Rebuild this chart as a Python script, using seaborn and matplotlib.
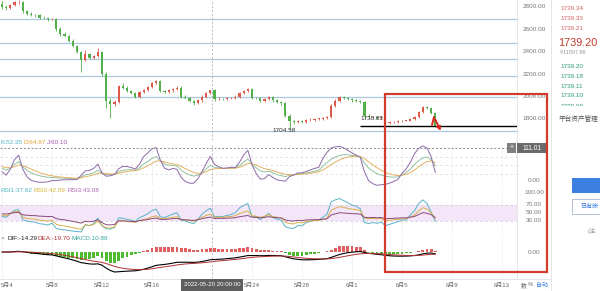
import numpy as np
import pandas as pd
import matplotlib
matplotlib.use("Agg")
import matplotlib.pyplot as plt
import seaborn as sns
from matplotlib import transforms
from matplotlib.patches import Rectangle
from matplotlib.lines import Line2D

# ---------------- data (8h candles, position in days from 5月4) ----------------
closes = [2800, 2790, 2815, 2840, 2845, 2760, 2740, 2730, 2725, 2705,
          2700, 2688, 2694, 2600, 2560, 2540, 2500, 2450, 2400, 2330,
          2380, 2345, 2360, 2400, 2200, 1960, 1930, 1950, 2090, 2080,
          2050, 2030, 2000, 2040, 2060, 2085, 2120, 2140, 2050, 2040,
          2055, 2070, 2080, 2000, 1985, 1960, 1940, 1965, 2000, 2030,
          2055, 1975, 1980, 1978, 1985, 1990, 2000, 2030, 2050, 2070,
          1990, 1985, 1960, 1975, 1995, 1965, 1950, 1940, 1830, 1780,
          1770, 1785, 1775, 1790, 1795, 1800, 1800, 1810, 1820, 1920,
          1960, 1995, 1985, 1975, 1965, 1960, 1950, 1830, 1815, 1820,
          1810, 1815, 1765, 1770, 1775, 1780, 1785, 1785, 1800, 1815,
          1860, 1910, 1895, 1850, 1739]
highs = [2850, 2815, 2825, 2855, 2862, 2855, 2775, 2752, 2740, 2735,
         2718, 2710, 2705, 2705, 2625, 2575, 2550, 2512, 2462, 2410,
         2415, 2392, 2375, 2433, 2410, 2215, 1985, 1965, 2105, 2120,
         2095, 2062, 2042, 2052, 2070, 2095, 2132, 2150, 2148, 2062,
         2065, 2080, 2092, 2090, 2012, 1995, 1972, 1975, 2010, 2040,
         2062, 2065, 1992, 1990, 1995, 2000, 2010, 2042, 2060, 2078,
         2078, 2000, 1995, 1985, 2005, 2002, 1975, 1960, 1950, 1842,
         1792, 1795, 1795, 1800, 1805, 1810, 1812, 1820, 1830, 1930,
         1975, 2005, 2002, 1995, 1985, 1975, 1970, 1958, 1842, 1830,
         1830, 1825, 1822, 1778, 1782, 1788, 1792, 1792, 1808, 1822,
         1868, 1918, 1920, 1900, 1856]
lows = [2785, 2775, 2782, 2805, 2828, 2748, 2728, 2718, 2712, 2695,
        2690, 2678, 2680, 2588, 2545, 2528, 2488, 2438, 2385, 2220,
        2318, 2335, 2332, 2350, 2185, 1900, 1808, 1918, 1940, 2068,
        2038, 2020, 1990, 1988, 2030, 2050, 2075, 2110, 2040, 2030,
        2030, 2045, 2060, 1988, 1975, 1950, 1928, 1930, 1955, 1990,
        2020, 1962, 1965, 1968, 1968, 1975, 1980, 1990, 2020, 2040,
        1978, 1975, 1948, 1950, 1965, 1955, 1940, 1928, 1815, 1704.58,
        1758, 1760, 1765, 1765, 1780, 1785, 1790, 1790, 1800, 1810,
        1910, 1950, 1975, 1965, 1955, 1950, 1940, 1800, 1805, 1805,
        1800, 1800, 1755, 1758, 1762, 1768, 1772, 1778, 1778, 1792,
        1808, 1852, 1885, 1840, 1730]
first_open = 2830
opens = [first_open] + closes[:-1]

level_lines = [2692, 2478, 2335, 2183, 1996, 1692]
price_ticks = [2800, 2600, 2400, 2200, 2000, 1800]
date_ticks = [0, 4, 8, 12, 20, 24, 28, 32, 36, 40]
date_labels = ["5月4", "5月8", "5月12", "5月16", "5月24", "5月28",
               "6月1", "6月5", "6月9", "6月13"]
rsi_ticks = [100, 70, 50, 30]
right_prices_red = ["1739.34", "1739.33", "1739.21"]
right_prices_green = ["1739.20", "1739.18", "1739.11", "1739.10", "1739.09"]
last_price = "1739.20"
current_line = 1737
crosshair_t = 16.83
crosshair_val = 111.01

# ---------------- style ----------------
sns.set_theme(style="white")
plt.rcParams["font.family"] = ["Liberation Sans", "Noto Sans CJK SC", "DejaVu Sans"]
plt.rcParams["axes.facecolor"] = "white"

W, H = 600, 291
fig = plt.figure(figsize=(6.0, 2.91), dpi=100)
fig.patch.set_facecolor("white")


def rect(x0, y0, x1, y1):
    return [x0 / W, 1 - y1 / H, (x1 - x0) / W, (y1 - y0) / H]


def T(x, y, s, **kw):
    kw.setdefault("size", 4.6)
    kw.setdefault("va", "center")
    return fig.text(x / W, 1 - y / H, s, **kw)


t = np.arange(len(closes)) / 3.0
XL = (-0.16, 41.2)

ax_main = fig.add_axes(rect(0, 0, 517, 140))
ax_kdj = fig.add_axes(rect(0, 145, 517, 186))
ax_rsi = fig.add_axes(rect(0, 191, 517, 233))
ax_macd = fig.add_axes(rect(0, 236, 517, 278))
axes = [ax_main, ax_kdj, ax_rsi, ax_macd]
for a in axes:
    a.set_xlim(*XL)
    for s in a.spines.values():
        s.set_visible(False)
    a.set_xticks([])
    a.set_yticks([])
    for d in date_ticks:
        if a is not ax_main:
            a.axvline(d, color="#f1f1f1", lw=0.6, zorder=0)
    a.axvline(crosshair_t, color="#b5b5b5", lw=0.7, ls=(0, (2, 2)), zorder=5)

# ---------------- main candles ----------------
o = np.array(opens, float)
c = np.array(closes, float)
hi = np.array(highs, float)
lo = np.array(lows, float)
up = c >= o
col = np.where(up, "#dc5a48", "#52b04a")
ax_main.set_ylim(1612, 2862)
for lv in level_lines:
    ax_main.axhline(lv, color="#a9c9e2", lw=0.9, zorder=1)
ax_main.vlines(t, lo, hi, colors=col, lw=0.6, zorder=3)
body = np.maximum(np.abs(c - o), 4)
ax_main.bar(t, body, bottom=np.minimum(o, c), width=0.18, color=col, lw=0, zorder=3)
ax_main.hlines(current_line, (360 - 2) / 12.5, XL[1], color="black", lw=1.0, zorder=4)
ax_main.text(22.6, 1701, "1704.58", size=4.6, ha="center", va="center", color="#333")
ax_main.text(29.6, 1808, "1738.83", size=4.6, ha="center", va="center", color="#333", zorder=6)
# red arrow
ax_main.plot([34.4, 34.56], [1746, 1817], color="#e02020", lw=1.4, zorder=7)
ax_main.annotate("", xy=(35.2, 1672), xytext=(34.56, 1817),
                 arrowprops=dict(arrowstyle="-|>", color="#e02020", lw=1.4,
                                 mutation_scale=5), zorder=7)

# ---------------- indicators computed from the candles ----------------
df = pd.DataFrame({"o": o, "h": hi, "l": lo, "c": c})
llv = df["l"].rolling(9, min_periods=1).min()
hhv = df["h"].rolling(9, min_periods=1).max()
rsv = ((df["c"] - llv) / (hhv - llv) * 100).fillna(50)
K, D = [], []
kp, dp = 50.0, 50.0
for r in rsv:
    kp = 2 / 3 * kp + r / 3
    dp = 2 / 3 * dp + kp / 3
    K.append(kp)
    D.append(dp)
K = np.array(K)
D = np.array(D)
J = 3 * K - 2 * D

diff = np.diff(c, prepend=first_open)


def rsi(n):
    a = np.abs(diff[:n]).mean()
    g = a / 2
    out = []
    for d in diff:
        g = g + (max(d, 0) - g) / n
        a = a + (abs(d) - a) / n
        out.append(100 * g / a if a > 0 else 50)
    return np.array(out)


rsi1, rsi2, rsi3 = rsi(6), rsi(12), rsi(24)

ema12 = df["c"].ewm(span=12, adjust=False).mean()
ema26 = df["c"].ewm(span=26, adjust=False).mean()
dif = (ema12 - ema26).values
dea = pd.Series(dif).ewm(span=9, adjust=False).mean().values
macd = 2 * (dif - dea)

# KDJ
ax_kdj.set_ylim(-20, 120)
for g in (20, 50, 80):
    ax_kdj.axhline(g, color="#dddddd", lw=0.6, ls=(0, (3, 3)), zorder=0)
ax_kdj.axhline(crosshair_val, color="#8a8a8a", lw=0.7, ls=(0, (2, 2)), zorder=5)
sns.lineplot(x=t, y=K, ax=ax_kdj, color="#8fc2a0", lw=0.7)
sns.lineplot(x=t, y=D, ax=ax_kdj, color="#e3b060", lw=0.7)
sns.lineplot(x=t, y=J, ax=ax_kdj, color="#8e6aa8", lw=0.7)

# RSI
ax_rsi.set_ylim(0, 105)
ax_rsi.axhspan(30, 70, color="#f3e6f8", lw=0, zorder=0)
for g in (30, 70):
    ax_rsi.axhline(g, color="#d8c8dc", lw=0.6, ls=(0, (3, 3)), zorder=1)
sns.lineplot(x=t, y=rsi1, ax=ax_rsi, color="#56b4c8", lw=0.7)
sns.lineplot(x=t, y=rsi2, ax=ax_rsi, color="#d8b048", lw=0.7)
sns.lineplot(x=t, y=rsi3, ax=ax_rsi, color="#8a4a7a", lw=0.7)

# MACD
lowv = min(dif.min(), dea.min(), macd.min())
scale = 20.0 / abs(lowv)
ax_macd.set_ylim(-26 / scale, 16 / scale)
mcol = np.where(macd >= 0, "#e06060", "#4cbb30")
ax_macd.bar(t, macd, width=0.22, color=mcol, lw=0, zorder=2)
sns.lineplot(x=t, y=dif, ax=ax_macd, color="black", lw=0.8)
sns.lineplot(x=t, y=dea, ax=ax_macd, color="#b03030", lw=0.7)

for a in axes:
    a.set_xlim(*XL)
    a.set_xlabel("")
    a.set_ylabel("")

# x labels
for d, lab in zip(date_ticks, date_labels):
    if d == 0:
        T(0.5, 285, lab, ha="left", color="#666", size=4.3)
    else:
        T(2 + d * 12.5, 285, lab, ha="center", color="#666", size=4.3)

# right axis labels (centered at x=534)
def rlabel(ax, val, txt):
    tr = transforms.blended_transform_factory(fig.transFigure, ax.transData)
    ax.text(534 / W, val, txt, transform=tr, ha="center", va="center",
            size=4.6, color="#777", clip_on=False)


for p in price_ticks:
    rlabel(ax_main, p, f"{p:.2f}")
rlabel(ax_kdj, 0, "0.00")
for r in rsi_ticks:
    rlabel(ax_rsi, r, f"{r:.2f}")
rlabel(ax_macd, 0, "0.00")

# separators
fig.add_artist(Line2D([517 / W, 517 / W], [1 - 278 / H, 1], transform=fig.transFigure,
                      color="#e6e6e6", lw=0.7))
fig.add_artist(Line2D([551 / W, 551 / W], [0, 1], transform=fig.transFigure,
                      color="#e6e6e6", lw=0.7))
fig.add_artist(Line2D([0, 551 / W], [1 - 278.5 / H] * 2, transform=fig.transFigure,
                      color="#e6e6e6", lw=0.7))

# legends
T(0.5, 143, "K:52.35", color="#4fb3c4")
T(23, 143, "D:64.97", color="#e0a030")
T(47, 143, "J:60.10", color="#a05ab0")
T(0.5, 190, "RSI1:37.62", color="#4fb3c4")
T(34, 190, "RSI2:42.59", color="#d8b030")
T(67, 190, "RSI3:43.08", color="#b060b0")
T(0.5, 238, "×", color="#888")
T(7, 238, "DIF:-14.29", color="#222")
T(38, 238, "DEA:-19.70", color="#b03030")
T(72, 238, "MACD:10.88", color="#3aa8a0")
T(521, 285, "数", color="#666", size=4.3)
T(528, 285, "%", color="#666", size=4.3)
T(536, 285, "自动", color="#3b7fe0", size=4.3)

# crosshair boxes
fig.add_artist(Rectangle((507 / W, 1 - 153 / H), 9 / W, 10 / H, transform=fig.transFigure,
                         color="#808080", lw=0, zorder=8))
T(511.5, 148, "+", color="white", ha="center", size=5, zorder=9)
fig.add_artist(Rectangle((517 / W, 1 - 153 / H), 31 / W, 10 / H, transform=fig.transFigure,
                         color="#6a6a6a", lw=0, zorder=8))
T(532.5, 148, f"{crosshair_val:.2f}", color="white", ha="center", size=4.8, zorder=9)
fig.add_artist(Rectangle((181 / W, 0), 62 / W, 12 / H, transform=fig.transFigure,
                         color="#5e5e5e", lw=0, zorder=8))
T(212, 285, "2022-05-20 20:00:00", color="white", ha="center", size=4.4, zorder=9)

# right panel
for i, s in enumerate(right_prices_red):
    T(560, 8 + i * 10, s, color="#d46060")
T(558, 43, last_price, color="#c0392b", size=7.8)
T(560, 53, "¥11597.86", color="#999", size=4)
for i, s in enumerate(right_prices_green):
    T(560, 66 + i * 10, s, color="#2a9d74")
fig.add_artist(Rectangle((554 / W, 1 - 113 / H), 46 / W, 7.5 / H, transform=fig.transFigure,
                         color="white", lw=0, zorder=10))
T(559, 119, "平台资产管理", color="#555", size=4.8, zorder=11)
fig.add_artist(Rectangle((572 / W, 1 - 193 / H), 30 / W, 15 / H, transform=fig.transFigure,
                         color="#3b7fe0", lw=0, zorder=8))
fig.add_artist(Rectangle((572 / W, 1 - 214 / H), 30 / W, 15 / H, transform=fig.transFigure,
                         fc="white", ec="#aab8cc", lw=0.6, zorder=8))
T(580, 206.5, "已有帐", color="#3b7fe0", size=4.4, zorder=9)
T(588, 231, "(注:", color="#999", size=4.4)

# red highlight rectangle
fig.add_artist(Rectangle((385 / W, 1 - 272 / H), (547 - 385) / W, (272 - 94) / H,
                         transform=fig.transFigure, fill=False, ec="#d03b2b", lw=1.6,
                         zorder=12))

fig.savefig("out.png", dpi=100, facecolor="white")
